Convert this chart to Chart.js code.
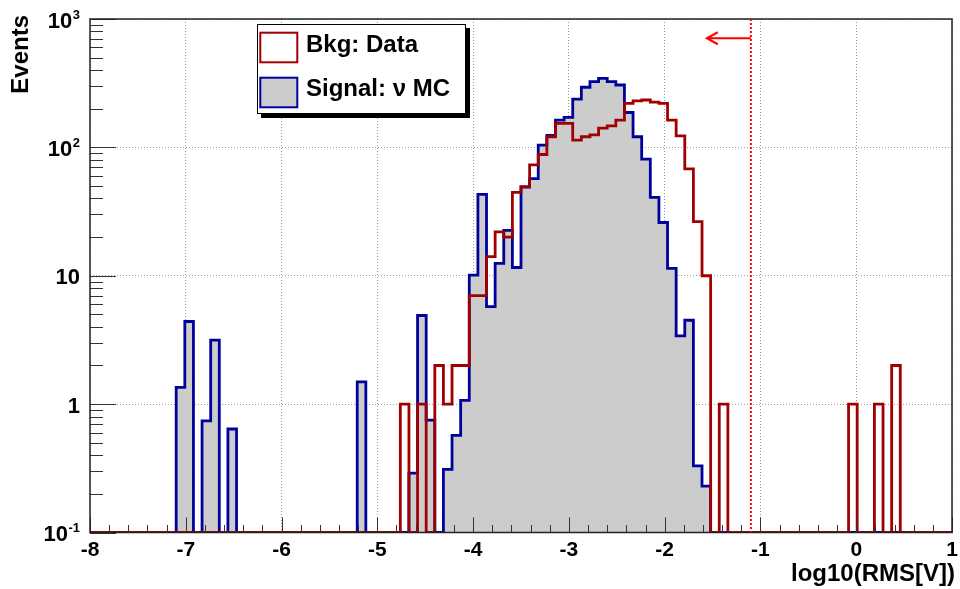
<!DOCTYPE html>
<html>
<head>
<meta charset="utf-8">
<script src="https://cdn.jsdelivr.net/npm/chart.js@4/dist/chart.umd.min.js"></script>
<style>
html,body{margin:0;padding:0;background:#fff;}
#wrap{width:960px;height:589px;}
</style>
</head>
<body>
<div id="wrap"><canvas id="c" width="960" height="589"></canvas></div>
<script>
// Histogram binning: 100 bins from -8 to 1
const binLow = -8;
const binWidth = 0.09;
const nBins = 100;

// Signal: nu MC (bin contents, bin 0 .. 99)
const signalMC = [
  0,0,0,0,0,0,0,0,0,0,
  1.35,4.4,0,0.74,3.15,0,0.64,0,0,0,
  0,0,0,0,0,0,0,0,0,0,
  0,1.49,0,0,0,0,0,0.29,4.9,0.75,
  0,0.31,0.57,1.07,10.1,43,5.75,12.5,22.6,11.6,
  49,57,104,124,163,171,238,294,325,345,
  325,306,187,121,81,40.8,26,11.4,3.4,4.5,
  0.33,0.23,0,0,0,0,0,0,0,0,
  0,0,0,0,0,0,0,0,0,0,
  0,0,0,0,0,0,0,0,0,0
];

// Bkg: Data (bin contents, bin 0 .. 99)
const bkgData = [
  0,0,0,0,0,0,0,0,0,0,
  0,0,0,0,0,0,0,0,0,0,
  0,0,0,0,0,0,0,0,0,0,
  0,0,0,0,0,0,1,0,1,0,
  2,1,2,2,7,7,14.1,22,20,44.6,
  49.5,73,88,121,154,154,114,121,125,141,
  147,163,220,230,234,225,220,163,123,68,
  26.4,10,0,1,0,0,0,0,0,0,
  0,0,0,0,0,0,0,0,1,0,
  0,1,0,2,0,0,0,0,0,0
];

const seriesNames = ['Bkg: Data', 'Signal: \u03bd MC'];
const xTickLabels = ['-8','-7','-6','-5','-4','-3','-2','-1','0','1'];
const yTickValues = [0.1, 1, 10, 100, 1000];
const yTickLabels = [['10','-1'], ['1',''], ['10',''], ['10','2'], ['10','3']];
const xTitle = 'log10(RMS[V])';
const yTitle = 'Events';
const cutValue = -1.1;
const arrowTo = -1.56;
const arrowY = 708;

const yMin = 0.1, yMax = 1000;
const FONT = '"Liberation Sans", Arial, Helvetica, sans-serif';

function toPoints(vals) {
  const pts = vals.map((v, i) => ({ x: binLow + i * binWidth, y: v > 0 ? v : yMin }));
  pts.push({ x: binLow + nBins * binWidth, y: yMin });
  return pts;
}

const decor = {
  id: 'decor',
  afterDraw(chart) {
    const ctx = chart.ctx;
    const xs = chart.scales.x, ys = chart.scales.y;
    const a = chart.chartArea;
    ctx.save();

    // ticks (inside frame)
    ctx.strokeStyle = '#333';
    ctx.lineWidth = 1;
    ctx.beginPath();
    for (let i = 0; i <= 45; i++) {
      const v = -8 + i * 0.2;
      const px = Math.round(xs.getPixelForValue(v)) + 0.5;
      const major = (i % 5 === 0);
      ctx.moveTo(px, a.bottom);
      ctx.lineTo(px, a.bottom - (major ? 15 : 7.5));
    }
    for (let d = 0; d < yTickValues.length; d++) {
      const dec = yTickValues[d];
      const py = Math.round(ys.getPixelForValue(dec)) + 0.5;
      ctx.moveTo(a.left, py); ctx.lineTo(a.left + 26, py);
      if (d < yTickValues.length - 1) {
        for (let m = 2; m <= 9; m++) {
          const pm = Math.round(ys.getPixelForValue(m * dec)) + 0.5;
          ctx.moveTo(a.left, pm); ctx.lineTo(a.left + 13, pm);
        }
      }
    }
    ctx.stroke();

    // frame
    ctx.strokeStyle = '#222';
    ctx.lineWidth = 1.5;
    ctx.strokeRect(a.left, a.top, a.right - a.left, a.bottom - a.top);

    // cut line
    const cx = xs.getPixelForValue(cutValue);
    ctx.strokeStyle = '#ff0000';
    ctx.lineWidth = 2;
    ctx.setLineDash([2, 2]);
    ctx.beginPath();
    ctx.moveTo(cx, a.top); ctx.lineTo(cx, a.bottom);
    ctx.stroke();
    ctx.setLineDash([]);
    // arrow
    const ay = ys.getPixelForValue(arrowY);
    const ax = xs.getPixelForValue(arrowTo);
    ctx.beginPath();
    ctx.moveTo(cx, ay); ctx.lineTo(ax, ay);
    ctx.moveTo(ax + 11, ay - 6); ctx.lineTo(ax, ay); ctx.lineTo(ax + 11, ay + 6);
    ctx.stroke();

    // y tick labels with superscripts
    ctx.fillStyle = '#000';
    ctx.textBaseline = 'alphabetic';
    ctx.textAlign = 'right';
    const rx = 80;
    yTickValues.forEach((v, i) => {
      const py = ys.getPixelForValue(v);
      const [base, exp] = yTickLabels[i];
      let r = rx;
      if (exp) {
        ctx.font = 'bold 13px ' + FONT;
        ctx.fillText(exp, rx, py - 0.5);
        r = rx - ctx.measureText(exp).width - 0.5;
      }
      ctx.font = 'bold 22px ' + FONT;
      ctx.fillText(base, r, py + 8.5);
    });

    // axis titles
    ctx.font = 'bold 24px ' + FONT;
    ctx.textAlign = 'right';
    ctx.fillText(xTitle, 955, 581);
    ctx.save();
    ctx.translate(28, 15);
    ctx.rotate(-Math.PI / 2);
    ctx.textAlign = 'right';
    ctx.fillText(yTitle, 0, 0);
    ctx.restore();

    // legend
    const ds = chart.data.datasets;
    ctx.fillStyle = '#000';
    ctx.fillRect(261, 28, 209, 90);
    ctx.fillStyle = '#fff';
    ctx.fillRect(257, 24, 208, 89);
    ctx.strokeStyle = '#000';
    ctx.lineWidth = 1;
    ctx.strokeRect(257.5, 24.5, 208, 89);
    const rows = [{ y: 32.7, base: 52.3 }, { y: 77.7, base: 95.5 }];
    ds.forEach((d, i) => {
      const r = rows[i];
      ctx.fillStyle = d.fill ? d.backgroundColor : '#fff';
      ctx.fillRect(260.3, r.y, 37, 29.6);
      ctx.strokeStyle = d.borderColor;
      ctx.lineWidth = 2;
      ctx.strokeRect(260.3, r.y, 37, 29.6);
      ctx.fillStyle = '#000';
      ctx.textAlign = 'left';
      ctx.font = 'bold 24px ' + FONT;
      ctx.fillText(d.label, 306, r.base);
    });

    ctx.restore();
  }
};

new Chart(document.getElementById('c'), {
  type: 'line',
  data: {
    datasets: [
      {
        label: seriesNames[0],
        data: toPoints(bkgData),
        borderColor: '#a00000',
        borderWidth: 2.8,
        stepped: true,
        fill: false,
        pointRadius: 0,
        borderJoinStyle: 'miter',
        order: 0
      },
      {
        label: seriesNames[1],
        data: toPoints(signalMC),
        borderColor: '#00009c',
        backgroundColor: '#cccccc',
        borderWidth: 2.8,
        stepped: true,
        fill: 'start',
        pointRadius: 0,
        borderJoinStyle: 'miter',
        order: 1
      }
    ]
  },
  options: {
    responsive: false,
    animation: false,
    events: [],
    layout: { padding: { left: 0, right: 8, top: 19, bottom: 0 } },
    plugins: { legend: { display: false }, tooltip: { enabled: false } },
    scales: {
      x: {
        type: 'linear',
        min: -8,
        max: 1,
        afterFit: (s) => { s.height = 56.5; s.paddingRight = 0; s.paddingLeft = 0; },
        ticks: {
          stepSize: 1,
          color: '#000',
          padding: 5,
          maxRotation: 0,
          font: { family: FONT, size: 21, weight: 'bold' },
          callback: (v) => {
            const idx = Math.round(v + 8);
            return xTickLabels[idx] !== undefined ? xTickLabels[idx] : '';
          }
        },
        grid: { color: '#9a9a9a', lineWidth: 1, drawTicks: false },
        border: { display: false, dash: [1, 2] }
      },
      y: {
        type: 'logarithmic',
        min: yMin,
        max: yMax,
        afterFit: (s) => { s.width = 90; },
        afterBuildTicks: (s) => { s.ticks = yTickValues.map(v => ({ value: v })); },
        ticks: { display: false },
        grid: { color: '#9a9a9a', lineWidth: 1, drawTicks: false },
        border: { display: false, dash: [1, 2] }
      }
    }
  },
  plugins: [decor]
});
</script>
</body>
</html>
